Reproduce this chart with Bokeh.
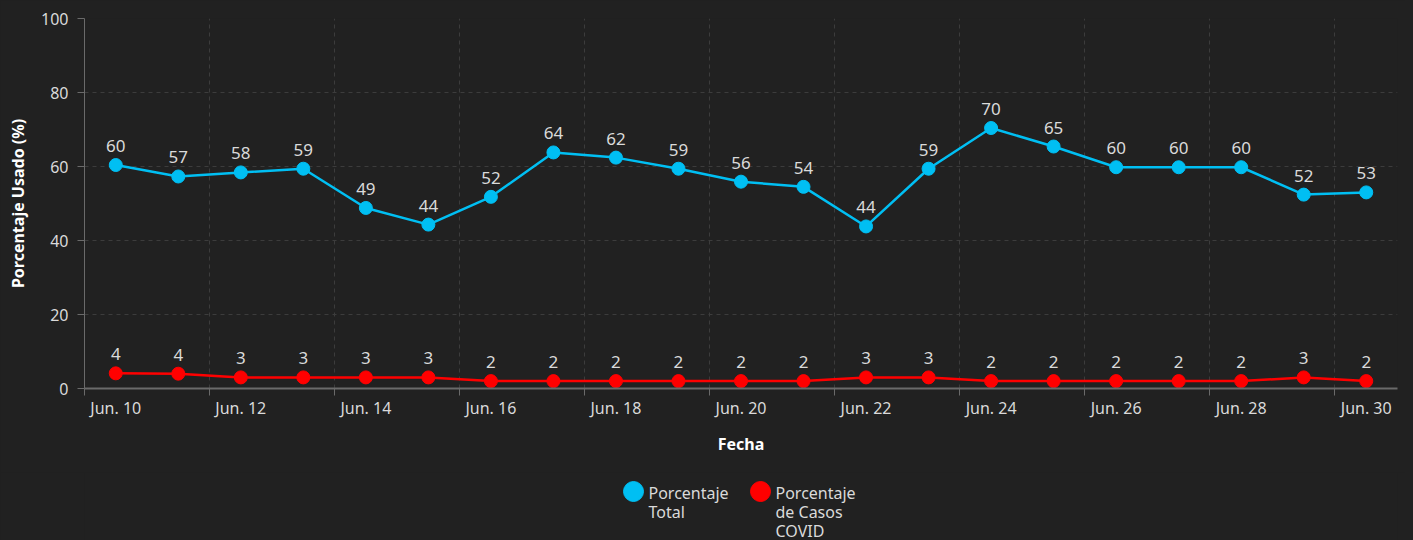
from bokeh.plotting import figure
from bokeh.layouts import column
from bokeh.models import (ColumnDataSource, FixedTicker, LinearAxis, Range1d,
                          GlobalInlineStyleSheet)
from bokeh.embed import file_html
from bokeh.resources import INLINE
from bokeh.core.properties import value

# ---- data ----
dates = ["Jun. 10", "Jun. 11", "Jun. 12", "Jun. 13", "Jun. 14", "Jun. 15", "Jun. 16",
         "Jun. 17", "Jun. 18", "Jun. 19", "Jun. 20", "Jun. 21", "Jun. 22", "Jun. 23",
         "Jun. 24", "Jun. 25", "Jun. 26", "Jun. 27", "Jun. 28", "Jun. 29", "Jun. 30"]
total = [60.4, 57.3, 58.4, 59.4, 48.8, 44.3, 51.8, 63.8, 62.4, 59.4, 55.9,
         54.5, 43.8, 59.4, 70.4, 65.4, 59.8, 59.8, 59.8, 52.4, 53.0]
covid = [4.1, 4.0, 3.0, 3.0, 3.0, 3.0, 2.0, 2.0, 2.0, 2.0, 2.0,
         2.0, 3.0, 3.0, 2.0, 2.0, 2.0, 2.0, 2.0, 3.0, 2.0]
y_ticks = [0, 20, 40, 60, 80, 100]
series_names = ["Porcentaje\nTotal", "Porcentaje\nde Casos\nCOVID"]

BG = "#212121"
BLUE = "#00BFF3"
RED = "#FF0000"
TXT = "#DADADA"
FONT = "Noto Sans"
STYLE = GlobalInlineStyleSheet(css="html, body { background-color: #212121; }")
W = 1405
BL, BR = 84, 8

idx = list(range(len(dates)))
src_t = ColumnDataSource(dict(x=idx, y=total, lab=[str(round(v)) for v in total]))
src_c = ColumnDataSource(dict(x=idx, y=covid, lab=[str(round(v)) for v in covid]))

p = figure(width=W, height=472, x_range=Range1d(-0.5, len(dates) - 0.5),
           y_range=Range1d(0, 100), output_backend="svg", toolbar_location=None,
           background_fill_color=BG, border_fill_color=BG,
           min_border_left=BL, min_border_right=BR, min_border_top=18,
           min_border_bottom=84)
p.outline_line_color = None
p.stylesheets = [STYLE]

bounds = [i - 0.5 for i in range(0, len(dates), 2)]
centers = [i for i in range(0, len(dates), 2)]

# y axis
ya = p.yaxis[0]
ya.ticker = FixedTicker(ticks=y_ticks)
ya.axis_line_color = "#6a6a6a"
ya.major_tick_line_color = "#6a6a6a"
ya.major_tick_out = 7
ya.major_tick_in = 0
ya.minor_tick_line_color = None
ya.major_label_text_color = TXT
ya.major_label_text_font = FONT
ya.major_label_text_font_size = "16px"
ya.major_label_standoff = 9
ya.axis_label = "Porcentaje Usado (%)"
ya.axis_label_text_color = "#FFFFFF"
ya.axis_label_text_font = FONT
ya.axis_label_text_font_size = "16px"
ya.axis_label_text_font_style = "bold"
ya.axis_label_standoff = 9

# x axis (tick marks at band boundaries)
xa = p.xaxis[0]
xa.ticker = FixedTicker(ticks=bounds)
xa.major_label_overrides = {b: "" for b in bounds}
xa.axis_line_color = "#6a6a6a"
xa.axis_line_width = 2
xa.major_tick_line_color = "#6a6a6a"
xa.major_tick_out = 7
xa.major_tick_in = 0
xa.minor_tick_line_color = None
xa.major_label_standoff = 0
xa.major_label_text_font_size = "1px"

# x axis labels
xa2 = LinearAxis(ticker=FixedTicker(ticks=centers),
                 major_label_overrides={c: dates[c] for c in centers})
xa2.axis_line_color = None
xa2.major_tick_line_color = None
xa2.minor_tick_line_color = None
xa2.major_tick_out = 0
xa2.major_tick_in = 0
xa2.major_label_standoff = 1
xa2.major_label_text_color = TXT
xa2.major_label_text_font = FONT
xa2.major_label_text_font_size = "16px"
xa2.axis_label = "Fecha"
xa2.axis_label_text_color = "#FFFFFF"
xa2.axis_label_text_font = FONT
xa2.axis_label_text_font_size = "16px"
xa2.axis_label_text_font_style = "bold"
xa2.axis_label_standoff = 11
p.add_layout(xa2, "below")

# grids
p.xgrid.ticker = FixedTicker(ticks=bounds[1:])
p.xgrid.grid_line_color = "#3c3c3c"
p.xgrid.grid_line_dash = "4 4"
p.ygrid.ticker = FixedTicker(ticks=y_ticks[1:])
p.ygrid.grid_line_color = "#3c3c3c"
p.ygrid.grid_line_dash = "4 4"

# series
p.line("x", "y", source=src_t, color=BLUE, line_width=2.5)
p.scatter("x", "y", source=src_t, size=13, color=BLUE)
p.line("x", "y", source=src_c, color=RED, line_width=2.5)
p.scatter("x", "y", source=src_c, size=13, color=RED)

for s in (src_t, src_c):
    p.text("x", "y", text="lab", source=s, text_align="center",
           text_baseline="bottom", y_offset=-13, text_color=TXT,
           text_font=value(FONT), text_font_size="17px")

# ---- legend strip below the chart (pixel coordinates; its frame aligns
#      with the main chart's frame inside the column) ----
LH = 68
lg = figure(width=W, height=LH, x_range=Range1d(BL, W - BR), y_range=Range1d(LH, 0),
            x_axis_type=None, y_axis_type=None,
            output_backend="svg", toolbar_location=None,
            background_fill_color=BG, border_fill_color=BG,
            min_border_left=BL, min_border_right=BR, min_border_top=0,
            min_border_bottom=0)
lg.outline_line_color = None
lg.grid.visible = False
lg.stylesheets = [STYLE]

leg_x = [633, 760]
leg_col = [BLUE, RED]
lg.scatter(leg_x, [19, 19], size=20, color=leg_col)
tx, ty, tt = [], [], []
for xx, name in zip(leg_x, series_names):
    for k, line in enumerate(name.split("\n")):
        tx.append(xx + 15)
        ty.append(20 + 19 * k)
        tt.append(line)
lg.text(tx, ty, text=tt, text_align="left", text_baseline="middle",
        text_color=TXT, text_font=value(FONT), text_font_size="16px")

layout = column(p, lg, spacing=0)
layout.stylesheets = [STYLE]
open("out.html", "w").write(file_html(layout, INLINE))
